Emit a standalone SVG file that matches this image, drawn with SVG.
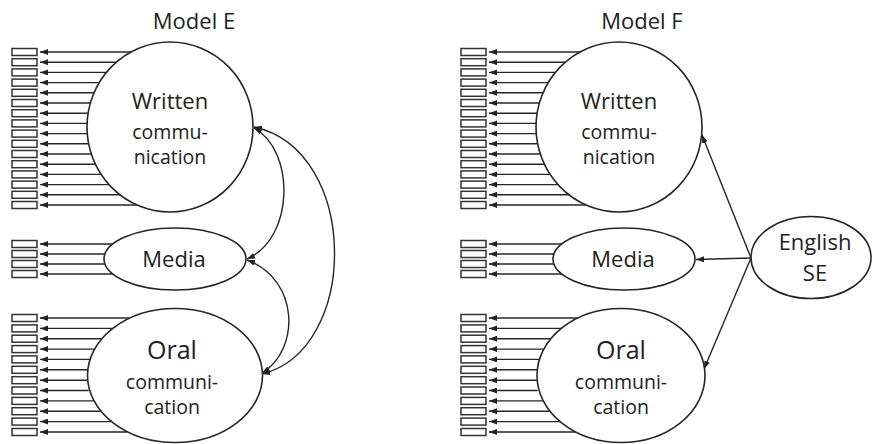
<svg xmlns="http://www.w3.org/2000/svg" xmlns:xlink="http://www.w3.org/1999/xlink" width="872" height="444" viewBox="0 0 872 444">
<style>
.ln{stroke:#262626;stroke-width:1.4;fill:none}
.nd{fill:#fff;stroke:#262626;stroke-width:1.6}
.bx{fill:#fff;stroke:#333;stroke-width:1.5}
text{font-family:"Open Sans","Liberation Sans",sans-serif;fill:#222;text-anchor:middle}
.big{font-size:22px}
.oral{font-size:25px}
.sm{font-size:19.5px}
.ttl{font-size:22px}
</style>
<defs>
<marker id="ah" viewBox="0 0 10 10" refX="10" refY="5" markerWidth="8" markerHeight="6" markerUnits="userSpaceOnUse" preserveAspectRatio="none" orient="auto-start-reverse">
<path d="M0,0 L10,5 L0,10 z" fill="#222"/>
</marker>
<rect id="bx" class="bx" x="12" y="-3.5" width="25" height="7"/>
<g id="loadings">
    <path class="ln" marker-end="url(#ah)" d="M130.9,52 H40"/>
    <path class="ln" marker-end="url(#ah)" d="M116.3,62.2 H40"/>
    <path class="ln" marker-end="url(#ah)" d="M106.4,72.4 H40"/>
    <path class="ln" marker-end="url(#ah)" d="M99.2,82.6 H40"/>
    <path class="ln" marker-end="url(#ah)" d="M94,92.8 H40"/>
    <path class="ln" marker-end="url(#ah)" d="M90.4,103 H40"/>
    <path class="ln" marker-end="url(#ah)" d="M88.1,113.2 H40"/>
    <path class="ln" marker-end="url(#ah)" d="M87.1,123.4 H40"/>
    <path class="ln" marker-end="url(#ah)" d="M87.3,133.6 H40"/>
    <path class="ln" marker-end="url(#ah)" d="M88.7,143.8 H40"/>
    <path class="ln" marker-end="url(#ah)" d="M91.3,154 H40"/>
    <path class="ln" marker-end="url(#ah)" d="M95.4,164.2 H40"/>
    <path class="ln" marker-end="url(#ah)" d="M101.1,174.4 H40"/>
    <path class="ln" marker-end="url(#ah)" d="M109,184.6 H40"/>
    <path class="ln" marker-end="url(#ah)" d="M119.9,194.8 H40"/>
    <path class="ln" marker-end="url(#ah)" d="M137,205 H40"/>
    <path class="ln" marker-end="url(#ah)" d="M112.9,244 H40"/>
    <path class="ln" marker-end="url(#ah)" d="M104.9,254 H40"/>
    <path class="ln" marker-end="url(#ah)" d="M104.9,264 H40"/>
    <path class="ln" marker-end="url(#ah)" d="M112.9,274 H40"/>
    <path class="ln" marker-end="url(#ah)" d="M129.2,318 H40"/>
    <path class="ln" marker-end="url(#ah)" d="M112.3,328.4 H40"/>
    <path class="ln" marker-end="url(#ah)" d="M101.6,338.7 H40"/>
    <path class="ln" marker-end="url(#ah)" d="M94.5,349.1 H40"/>
    <path class="ln" marker-end="url(#ah)" d="M90,359.4 H40"/>
    <path class="ln" marker-end="url(#ah)" d="M87.8,369.8 H40"/>
    <path class="ln" marker-end="url(#ah)" d="M87.7,380.2 H40"/>
    <path class="ln" marker-end="url(#ah)" d="M88.6,390.5 H40"/>
    <path class="ln" marker-end="url(#ah)" d="M93.9,400.9 H40"/>
    <path class="ln" marker-end="url(#ah)" d="M100.7,411.2 H40"/>
    <path class="ln" marker-end="url(#ah)" d="M111.1,421.6 H40"/>
    <path class="ln" marker-end="url(#ah)" d="M127.1,432 H40"/>
</g>
</defs>
<rect width="872" height="444" fill="#fff"/>

<text class="ttl" x="194" y="29">Model E</text>
<text class="ttl" x="642" y="29">Model F</text>

<g id="connectors">
  <use id="E-loadings" href="#loadings"/>
  <use id="F-loadings" href="#loadings" x="449"/>
  <g id="E-covariances">
    <path class="ln" marker-start="url(#ah)" marker-end="url(#ah)" d="M254,128 C295,150 295,238 247,259"/>
    <path class="ln" marker-start="url(#ah)" marker-end="url(#ah)" d="M247,260 C300,280 300,350 262,373"/>
    <path class="ln" marker-start="url(#ah)" marker-end="url(#ah)" d="M254,127 C360,150 360,350 262,374"/>
  </g>
  <g id="F-paths">
    <path class="ln" marker-end="url(#ah)" d="M751,258 L702,135"/>
    <path class="ln" marker-end="url(#ah)" d="M751,258 L696,259.5"/>
    <path class="ln" marker-end="url(#ah)" d="M751,258 L704,369"/>
  </g>
</g>

<g id="E-nodes">
  <g id="E-written">
    <ellipse class="nd" cx="170" cy="127" rx="83" ry="85"/>
    <text class="big" x="170" y="109">Written</text>
    <text class="sm" x="170" y="139">commu-</text>
    <text class="sm" x="170" y="164">nication</text>
  </g>
  <g id="E-media">
    <ellipse class="nd" cx="175" cy="259" rx="71" ry="31"/>
    <text class="big" x="174" y="267">Media</text>
  </g>
  <g id="E-oral">
    <ellipse class="nd" cx="175" cy="375.5" rx="87.5" ry="67"/>
    <text class="oral" x="172" y="359">Oral</text>
    <text class="sm" x="172" y="389">communi-</text>
    <text class="sm" x="172" y="414">cation</text>
  </g>
  <g id="E-indicators">
    <use id="E-w1" href="#bx" y="52"/><use id="E-w2" href="#bx" y="62.2"/><use id="E-w3" href="#bx" y="72.4"/><use id="E-w4" href="#bx" y="82.6"/>
    <use id="E-w5" href="#bx" y="92.8"/><use id="E-w6" href="#bx" y="103"/><use id="E-w7" href="#bx" y="113.2"/><use id="E-w8" href="#bx" y="123.4"/>
    <use id="E-w9" href="#bx" y="133.6"/><use id="E-w10" href="#bx" y="143.8"/><use id="E-w11" href="#bx" y="154"/><use id="E-w12" href="#bx" y="164.2"/>
    <use id="E-w13" href="#bx" y="174.4"/><use id="E-w14" href="#bx" y="184.6"/><use id="E-w15" href="#bx" y="194.8"/><use id="E-w16" href="#bx" y="205"/>
    <use id="E-m1" href="#bx" y="244"/><use id="E-m2" href="#bx" y="254"/><use id="E-m3" href="#bx" y="264"/><use id="E-m4" href="#bx" y="274"/>
    <use id="E-o1" href="#bx" y="318"/><use id="E-o2" href="#bx" y="328.4"/><use id="E-o3" href="#bx" y="338.7"/><use id="E-o4" href="#bx" y="349.1"/>
    <use id="E-o5" href="#bx" y="359.4"/><use id="E-o6" href="#bx" y="369.8"/><use id="E-o7" href="#bx" y="380.2"/><use id="E-o8" href="#bx" y="390.5"/>
    <use id="E-o9" href="#bx" y="400.9"/><use id="E-o10" href="#bx" y="411.2"/><use id="E-o11" href="#bx" y="421.6"/><use id="E-o12" href="#bx" y="432"/>
  </g>
</g>

<g id="F-nodes" transform="translate(449,0)">
  <g id="F-written">
    <ellipse class="nd" cx="170" cy="127" rx="83" ry="85"/>
    <text class="big" x="170" y="109">Written</text>
    <text class="sm" x="170" y="139">commu-</text>
    <text class="sm" x="170" y="164">nication</text>
  </g>
  <g id="F-media">
    <ellipse class="nd" cx="175" cy="259" rx="71" ry="31"/>
    <text class="big" x="174" y="267">Media</text>
  </g>
  <g id="F-oral">
    <ellipse class="nd" cx="172" cy="375.5" rx="84" ry="67"/>
    <text class="oral" x="172" y="359">Oral</text>
    <text class="sm" x="172" y="389">communi-</text>
    <text class="sm" x="172" y="414">cation</text>
  </g>
  <g id="F-indicators">
    <use id="F-w1" href="#bx" y="52"/><use id="F-w2" href="#bx" y="62.2"/><use id="F-w3" href="#bx" y="72.4"/><use id="F-w4" href="#bx" y="82.6"/>
    <use id="F-w5" href="#bx" y="92.8"/><use id="F-w6" href="#bx" y="103"/><use id="F-w7" href="#bx" y="113.2"/><use id="F-w8" href="#bx" y="123.4"/>
    <use id="F-w9" href="#bx" y="133.6"/><use id="F-w10" href="#bx" y="143.8"/><use id="F-w11" href="#bx" y="154"/><use id="F-w12" href="#bx" y="164.2"/>
    <use id="F-w13" href="#bx" y="174.4"/><use id="F-w14" href="#bx" y="184.6"/><use id="F-w15" href="#bx" y="194.8"/><use id="F-w16" href="#bx" y="205"/>
    <use id="F-m1" href="#bx" y="244"/><use id="F-m2" href="#bx" y="254"/><use id="F-m3" href="#bx" y="264"/><use id="F-m4" href="#bx" y="274"/>
    <use id="F-o1" href="#bx" y="318"/><use id="F-o2" href="#bx" y="328.4"/><use id="F-o3" href="#bx" y="338.7"/><use id="F-o4" href="#bx" y="349.1"/>
    <use id="F-o5" href="#bx" y="359.4"/><use id="F-o6" href="#bx" y="369.8"/><use id="F-o7" href="#bx" y="380.2"/><use id="F-o8" href="#bx" y="390.5"/>
    <use id="F-o9" href="#bx" y="400.9"/><use id="F-o10" href="#bx" y="411.2"/><use id="F-o11" href="#bx" y="421.6"/><use id="F-o12" href="#bx" y="432"/>
  </g>
</g>

<g id="F-english-se">
  <ellipse class="nd" cx="811" cy="257.5" rx="60" ry="41"/>
  <text class="ttl" x="815" y="250">English</text>
  <text class="ttl" x="815" y="281">SE</text>
</g>
</svg>
